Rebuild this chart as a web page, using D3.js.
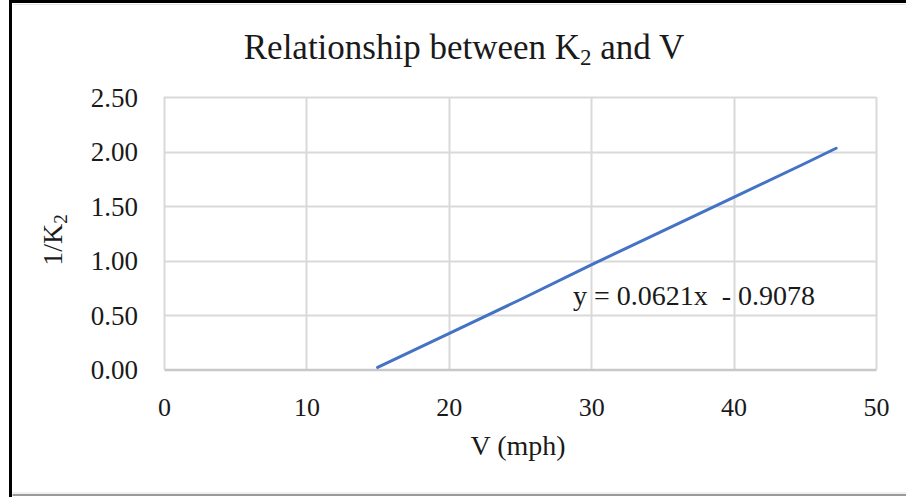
<!DOCTYPE html>
<html>
<head>
<meta charset="utf-8">
<script src="https://cdn.jsdelivr.net/npm/d3@7"></script>
<style>
  html, body { margin: 0; padding: 0; background: #fff; }
  svg { display: block; }
  text { font-family: "Liberation Serif", "Times New Roman", serif; fill: #1a1a1a; }
</style>
</head>
<body>
<svg id="chart" width="906" height="497"></svg>
<script>
// ---- data ----
const speeds = [15, 20, 25, 30, 35, 40, 45, 47.2];           // V (mph)
const invK2  = [0.02, 0.33, 0.64, 0.96, 1.27, 1.58, 1.89, 2.03]; // 1/K2
const xTicks = [0, 10, 20, 30, 40, 50];
const yTicks = [0, 0.5, 1.0, 1.5, 2.0, 2.5];
const equationLabel = "y = 0.0621x  - 0.9078";

const svg = d3.select("#chart");
const W = 906, H = 497;
const plot = { left: 164, right: 876, top: 97, bottom: 369.5 };

const x = d3.scaleLinear().domain([0, 50]).range([plot.left, plot.right]);
const y = d3.scaleLinear().domain([0, 2.5]).range([plot.bottom, plot.top]);

// outer frame
svg.append("rect").attr("x", 0).attr("y", 0).attr("width", W).attr("height", H).attr("fill", "#fff");
svg.append("line").attr("x1", 9).attr("x2", W).attr("y1", 1.5).attr("y2", 1.5)
  .attr("stroke", "#000").attr("stroke-width", 3);
svg.append("line").attr("x1", 13.5).attr("x2", W).attr("y1", 4.5).attr("y2", 4.5)
  .attr("stroke", "#e6e6e6").attr("stroke-width", 1);
svg.append("line").attr("x1", 10.5).attr("x2", 10.5).attr("y1", 0).attr("y2", H)
  .attr("stroke", "#000").attr("stroke-width", 3);
svg.append("line").attr("x1", 12.5).attr("x2", W).attr("y1", 493).attr("y2", 493)
  .attr("stroke", "#e0e0e0").attr("stroke-width", 1);
svg.append("line").attr("x1", 12.5).attr("x2", W).attr("y1", 495).attr("y2", 495)
  .attr("stroke", "#9a9a9a").attr("stroke-width", 2);

// gridlines
const grid = svg.append("g");
grid.selectAll("line.h").data(yTicks.filter(d => d > 0)).join("line")
  .attr("x1", plot.left).attr("x2", plot.right)
  .attr("y1", d => Math.round(y(d)) + 0.5).attr("y2", d => Math.round(y(d)) + 0.5)
  .attr("stroke", "#d9d9d9").attr("stroke-width", 2);
grid.selectAll("line.v").data(xTicks).join("line")
  .attr("y1", plot.top).attr("y2", plot.bottom)
  .attr("x1", d => Math.round(x(d)) + 0.5).attr("x2", d => Math.round(x(d)) + 0.5)
  .attr("stroke", "#d9d9d9").attr("stroke-width", 2);

// x axis (bottom line + labels)
const xAxis = d3.axisBottom(x).tickValues(xTicks).tickSize(0).tickPadding(46)
  .tickFormat(d3.format("d"));
const gx = svg.append("g").attr("transform", `translate(0,${plot.bottom})`).call(xAxis);
gx.select(".domain").attr("stroke", "#c8c8c8").attr("stroke-width", 2.5);
gx.selectAll("text").attr("font-size", 26).attr("fill", "#1a1a1a")
  .attr("font-family", "Liberation Serif").attr("dy", "0");

// y axis labels
const yAxis = d3.axisLeft(y).tickValues(yTicks).tickSize(0).tickPadding(26)
  .tickFormat(d3.format(".2f"));
const gy = svg.append("g").attr("transform", `translate(${plot.left},0)`).call(yAxis);
gy.select(".domain").remove();
gy.selectAll("text").attr("font-size", 27).attr("fill", "#1a1a1a")
  .attr("font-family", "Liberation Serif").attr("dy", "9");

// series line
const pts = speeds.map((v, i) => [v, invK2[i]]);
svg.append("path").datum(pts)
  .attr("fill", "none").attr("stroke", "#4472C4").attr("stroke-width", 3)
  .attr("stroke-linecap", "round")
  .attr("d", d3.line().x(d => x(d[0])).y(d => y(d[1])));

// equation label
svg.append("text").attr("x", 573).attr("y", 305).attr("font-size", 28)
  .attr("xml:space", "preserve").style("white-space", "pre")
  .text(equationLabel);

// title
const title = svg.append("text").attr("x", 464).attr("y", 59).attr("text-anchor", "middle")
  .attr("font-size", 35);
title.append("tspan").text("Relationship between K");
title.append("tspan").attr("font-size", 23).attr("dy", 6).text("2");
title.append("tspan").attr("dy", -6).text(" and V");

// axis titles
svg.append("text").attr("x", 518).attr("y", 455).attr("text-anchor", "middle")
  .attr("font-size", 28).text("V (mph)");

const yt = svg.append("text").attr("transform", "translate(62,240) rotate(-90)")
  .attr("text-anchor", "middle").attr("font-size", 28);
yt.append("tspan").text("1/K");
yt.append("tspan").attr("font-size", 19).attr("dy", 5).text("2");
</script>
</body>
</html>
